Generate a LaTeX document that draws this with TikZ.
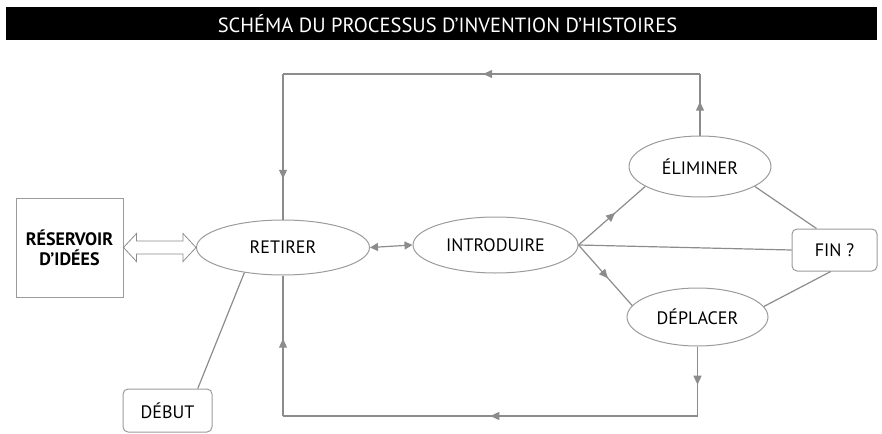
\documentclass[tikz,border=0pt]{standalone}
\usepackage{fontspec}
\setmainfont{PT Sans}
\usetikzlibrary{calc,shapes,arrows.meta,decorations.markings}
\definecolor{LineGray}{RGB}{140,140,140}
\definecolor{EdgeGray}{RGB}{155,155,155}

\begin{document}
\begin{tikzpicture}[x=1pt, y=-1pt,
		midtip/.style={postaction={decorate}, decoration={markings, mark=at position #1 with {\arrow{Triangle[length=9pt,width=8pt]}}}}]
			\tikzstyle{every node}=[font=\fontsize{18}{20}\selectfont, text=black, align=center];
			\tikzstyle{oval}=[draw=EdgeGray, line width=1pt, shape=ellipse, inner sep=0pt];
			\tikzstyle{tag}=[draw=EdgeGray, line width=1pt, shape=rectangle, rounded corners=5pt, inner sep=0pt];
			\tikzstyle{link}=[draw=LineGray, line width=1.2pt];
			\useasboundingbox (0,0) rectangle (882,433);
			% title bar
			\node [fill=black, text=white, minimum width=871pt, minimum height=33pt, inner sep=0pt, font=\fontsize{20.5}{22}\selectfont] (title) at (441.5, 23.5) {\hspace{12pt}SCHÉMA DU PROCESSUS D’INVENTION D’HISTOIRES};
			% nodes
			\node [draw=EdgeGray, line width=1pt, minimum width=107pt, minimum height=99pt, inner sep=0pt, font=\fontsize{18}{20}\selectfont\bfseries] (reservoir) at (69.5, 247.5) {RÉSERVOIR\\D’IDÉES};
			\node [oval, minimum width=173pt, minimum height=55pt] (retirer) at (283, 247.5) {RETIRER};
			\node [oval, minimum width=165pt, minimum height=56pt] (intro) at (495.5, 245) {INTRODUIRE};
			\node [oval, minimum width=142pt, minimum height=61pt] (elim) at (700, 166.5) {ÉLIMINER};
			\node [oval, minimum width=141pt, minimum height=58pt] (depl) at (697.5, 317) {DÉPLACER};
			\node [tag, minimum width=85pt, minimum height=42pt] (fin) at (834.5, 250) {FIN ?};
			\node [tag, minimum width=89pt, minimum height=43pt] (debut) at (167.5, 410.5) {DÉBUT};
			% hollow double arrow
			\draw [LineGray, line width=0.8pt, line join=miter] (reservoir.east) -- ++(13,-14) -- ++(0,7.5) -- ($(retirer.west)+(-13,-6.5)$) -- ++(0,-7.5) -- (retirer.west) -- ++(-13,14) -- ++(0,-7.5) -- ($(reservoir.east)+(13,6.5)$) -- ++(0,7.5) -- cycle;
			% loop corners
			\coordinate (tr) at (700, 74);
			\coordinate (tl) at (283, 74);
			\coordinate (br) at (697.5, 416);
			\coordinate (bl) at (283, 416);
			% connectors
			\draw [link, {Triangle[length=8pt,width=8pt]}-{Triangle[length=8pt,width=8pt]}] (retirer.east) -- (intro.west);
			\draw [link, midtip=0.55] (intro.east) -- (elim.200);
			\draw [link, midtip=0.55] (intro.east) -- (depl.170);
			\draw [link] (intro.east) -- (fin.west);
			\draw [link] (elim.340) -- (fin.130);
			\draw [link] (depl.9) -- (fin.260);
			\draw [link] (debut.36) -- (retirer.213);
			\draw [link, midtip=0.55] (elim.north) -- (tr);
			\draw [link, midtip=0.52] (tr) -- (tl);
			\draw [link, midtip=0.72] (tl) -- (retirer.north);
			\draw [link, midtip=0.55] (depl.south) -- (br);
			\draw [link, midtip=0.5] (br) -- (bl);
			\draw [link, midtip=0.55] (bl) -- (retirer.south);
		\end{tikzpicture}
\end{document}
